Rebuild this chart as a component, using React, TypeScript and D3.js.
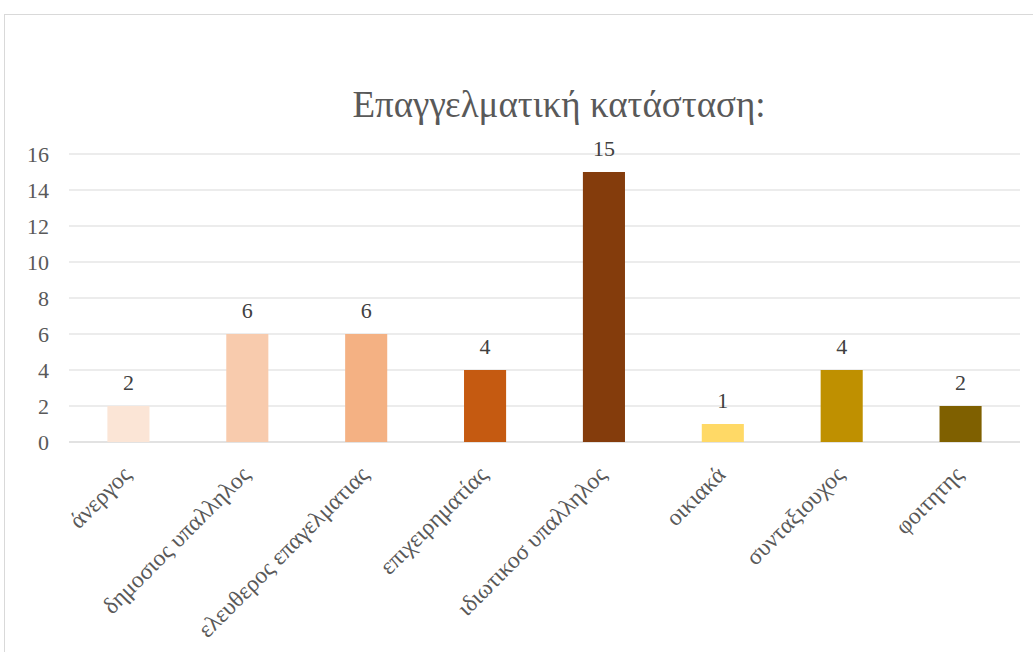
import { scaleBand, scaleLinear } from 'd3'

const categories = [
  'άνεργος',
  'δημοσιος υπαλληλος',
  'ελευθερος επαγελματιας',
  'επιχειρηματίας',
  'ιδιωτικοσ υπαλληλος',
  'οικιακά',
  'συνταξιουχος',
  'φοιτητης',
]
const counts = [2, 6, 6, 4, 15, 1, 4, 2]
const barColors = ['#FBE5D6', '#F8CBAD', '#F4B183', '#C55A11', '#843C0C', '#FFD966', '#BF9000', '#7F6000']
const yTickValues = [0, 2, 4, 6, 8, 10, 12, 14, 16]
const chartTitle = 'Επαγγελματική κατάσταση:'

const width = 1033
const height = 652
const plot = { left: 69, right: 1020, top: 154, bottom: 442 }
const font = '"Liberation Serif", "Times New Roman", serif'

function App() {
  const xScale = scaleBand()
    .domain(categories)
    .range([plot.left, plot.right])
    .paddingInner(0.646)
    .paddingOuter(0.323)

  const yScale = scaleLinear().domain([0, 16]).range([plot.bottom, plot.top])

  return (
    <svg
      width={width}
      height={height}
      viewBox={`0 0 ${width} ${height}`}
      style={{ position: 'absolute', left: 0, top: 0, background: '#fff' }}
      fontFamily={font}
    >
      <rect x={4.5} y={14.5} width={width + 20} height={height + 20} fill="#fff" stroke="#d9d9d9" />

      <text x={559} y={117} textAnchor="middle" fontSize={37} fill="#595959">
        {chartTitle}
      </text>

      {yTickValues.map((tick) => (
        <line
          key={`grid-${tick}`}
          x1={plot.left}
          x2={plot.right}
          y1={yScale(tick)}
          y2={yScale(tick)}
          stroke="#d9d9d9"
          strokeWidth={tick === 0 ? 1.5 : 1}
        />
      ))}

      {yTickValues.map((tick) => (
        <text
          key={`ytick-${tick}`}
          x={49}
          y={yScale(tick)}
          dy="0.35em"
          textAnchor="end"
          fontSize={22}
          fill="#595959"
        >
          {tick}
        </text>
      ))}

      {categories.map((cat, i) => (
        <rect
          key={`bar-${cat}`}
          x={xScale(cat) ?? 0}
          y={yScale(counts[i])}
          width={xScale.bandwidth()}
          height={yScale(0) - yScale(counts[i])}
          fill={barColors[i]}
        />
      ))}

      {categories.map((cat, i) => (
        <text
          key={`val-${cat}`}
          x={(xScale(cat) ?? 0) + xScale.bandwidth() / 2}
          y={yScale(counts[i]) - 16}
          textAnchor="middle"
          fontSize={22}
          fill="#404040"
        >
          {counts[i]}
        </text>
      ))}

      {categories.map((cat) => {
        const cx = (xScale(cat) ?? 0) + xScale.bandwidth() / 2
        return (
          <text
            key={`label-${cat}`}
            transform={`translate(${cx + 4}, 476) rotate(-45)`}
            textAnchor="end"
            fontSize={23.5}
            fill="#595959"
          >
            {cat}
          </text>
        )
      })}
    </svg>
  )
}

export default App
